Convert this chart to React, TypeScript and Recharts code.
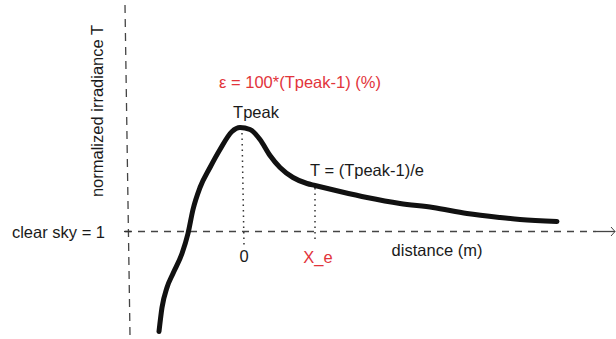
import React from 'react';
import { LineChart, Line, XAxis, YAxis, ReferenceLine, ReferenceDot } from 'recharts';

// distance relative to the peak (arbitrary units) and normalized irradiance T
const distance = [-8.3, -8.0, -7.5, -6.9, -6.0, -5.4, -4.9, -4.2, -3.2, -2.2, -1.0, -0.2, 0.8, 1.8, 2.8, 3.8, 5.1, 6.5, 7.3, 9.8, 12.5, 15.8, 19.1, 22.5, 25.8, 27.8, 31.5];
const irradiance = [0.50, 0.62, 0.72, 0.79, 0.89, 0.99, 1.11, 1.22, 1.32, 1.41, 1.50, 1.52, 1.51, 1.46, 1.38, 1.32, 1.27, 1.24, 1.23, 1.20, 1.17, 1.14, 1.12, 1.09, 1.07, 1.06, 1.05];

const clearSky = 1;
const peakX = 0;
const peakT = 1.4925;
const xE = 7.3;
const tE = 1.2175;

const labels = {
  epsilon: 'ε = 100*(Tpeak-1) (%)',
  tpeak: 'Tpeak',
  te: 'T = (Tpeak-1)/e',
  zero: '0',
  xe: 'X_e',
  distance: 'distance (m)',
  clearSky: 'clear sky = 1',
  yTitle: 'normalized irradiance T',
};

const data = distance.map((d, i) => ({ d, t: irradiance[i] }));

const FONT = 'Liberation Sans, Arial, Helvetica, sans-serif';
const RED = '#e2343b';
const INK = '#1a1a1a';

const textLabel = (value: string, fill = INK, angle = 0) => ({
  value,
  position: 'center' as const,
  fill,
  fontSize: 16.5,
  fontFamily: FONT,
  angle,
});

export default function App() {
  return (
    <div style={{ position: 'absolute', left: 0, top: 0, width: 616, height: 339, background: '#fff' }}>
      <LineChart width={616} height={339} data={data} margin={{ top: 0, right: 0, bottom: 0, left: 0 }}>
        <XAxis type="number" dataKey="d" domain={[-24.2, 37.4]} hide allowDataOverflow />
        <YAxis type="number" domain={[0.4625, 2.1575]} hide allowDataOverflow />

        {/* vertical dashed axis */}
        <ReferenceLine
          segment={[{ x: -11.7, y: 2.1325 }, { x: -11.2, y: 0.4825 }]}
          stroke="#444"
          strokeWidth={1.3}
          strokeDasharray="8 6"
          ifOverflow="visible"
        />
        {/* horizontal dashed clear-sky line */}
        <ReferenceLine
          segment={[{ x: -11.7, y: clearSky }, { x: 35.4, y: clearSky }]}
          stroke="#444"
          strokeWidth={1.3}
          strokeDasharray="7 6"
          ifOverflow="visible"
        />
        <ReferenceLine
          segment={[{ x: 35.4, y: clearSky }, { x: 37.3, y: clearSky }]}
          stroke="#444"
          strokeWidth={1.3}
          ifOverflow="visible"
        />
        <ReferenceLine
          segment={[{ x: 36.9, y: 1.0225 }, { x: 37.3, y: clearSky }]}
          stroke="#444"
          strokeWidth={1}
          ifOverflow="visible"
        />
        <ReferenceLine
          segment={[{ x: 36.9, y: 0.9775 }, { x: 37.3, y: clearSky }]}
          stroke="#444"
          strokeWidth={1}
          ifOverflow="visible"
        />
        {/* tick at clear sky */}
        <ReferenceLine
          segment={[{ x: -11.8, y: clearSky }, { x: -11.1, y: clearSky }]}
          stroke="#333"
          strokeWidth={1.3}
          ifOverflow="visible"
        />
        {/* dotted verticals */}
        <ReferenceLine
          segment={[{ x: peakX, y: peakT }, { x: peakX + 0.2, y: 0.9325 }]}
          stroke="#333"
          strokeWidth={1.5}
          strokeDasharray="1.5 4"
          ifOverflow="visible"
        />
        <ReferenceLine
          segment={[{ x: xE, y: tE }, { x: xE, y: 0.9425 }]}
          stroke="#333"
          strokeWidth={1.5}
          strokeDasharray="1.5 4"
          ifOverflow="visible"
        />

        <Line
          type="monotone"
          dataKey="t"
          stroke="#111"
          strokeWidth={5}
          strokeLinecap="round"
          strokeLinejoin="round"
          dot={false}
          activeDot={false}
          isAnimationActive={false}
        />

        <ReferenceDot x={5.8} y={1.7475} r={1} fill="none" stroke="none" label={textLabel(labels.epsilon, RED)} />
        <ReferenceDot x={1.4} y={1.5975} r={1} fill="none" stroke="none" label={textLabel(labels.tpeak)} />
        <ReferenceDot x={12.5} y={1.3075} r={1} fill="none" stroke="none" label={textLabel(labels.te)} />
        <ReferenceDot x={0.2} y={0.8775} r={1} fill="none" stroke="none" label={textLabel(labels.zero)} />
        <ReferenceDot x={7.6} y={0.8725} r={1} fill="none" stroke="none" label={textLabel(labels.xe, RED)} />
        <ReferenceDot x={19.5} y={0.9075} r={1} fill="none" stroke="none" label={textLabel(labels.distance)} />
        <ReferenceDot x={-18.35} y={0.9975} r={1} fill="none" stroke="none" label={textLabel(labels.clearSky)} />
        <ReferenceDot x={-14.5} y={1.6025} r={1} fill="none" stroke="none" label={textLabel(labels.yTitle, INK, -90)} />
      </LineChart>
    </div>
  );
}
